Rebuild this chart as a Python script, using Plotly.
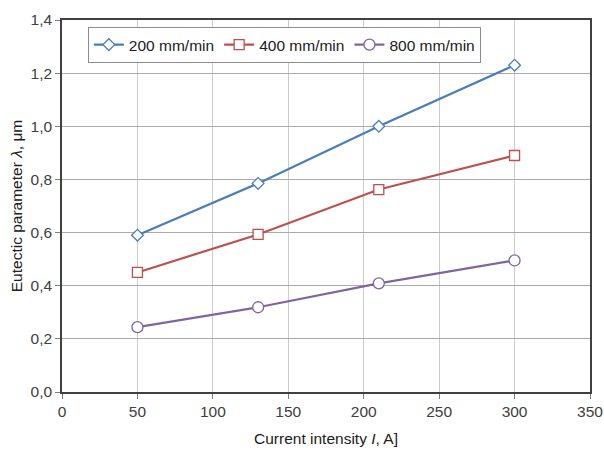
import plotly.graph_objects as go

current = [50, 130, 210, 300]
s200 = [0.59, 0.785, 1.0, 1.23]
s400 = [0.45, 0.593, 0.762, 0.89]
s800 = [0.244, 0.319, 0.409, 0.495]
names = ["200 mm/min", "400 mm/min", "800 mm/min"]
colors = ["#4A7EBB", "#C0504D", "#8064A2"]
symbols = ["diamond", "square", "circle"]
sizes = [9, 10, 11]

fig = go.Figure()
for vals, name, col, sym, sz in zip([s200, s400, s800], names, colors, symbols, sizes):
    fig.add_trace(go.Scatter(
        x=current, y=vals, name=name, mode="lines+markers",
        line=dict(color=col, width=2.2),
        marker=dict(symbol=sym, size=sz, color="white", line=dict(color=col, width=1.3)),
    ))

fig.update_layout(
    width=604, height=453,
    margin=dict(l=62, r=14, t=20, b=61),
    paper_bgcolor="white", plot_bgcolor="white",
    separators=",.",
    font=dict(family="Liberation Sans, Arial, sans-serif", size=15, color="#404040"),
    showlegend=True,
    legend=dict(orientation="h", x=0.049, y=0.981, xanchor="left", yanchor="top",
                bgcolor="white", bordercolor="#8c8c8c", borderwidth=1,
                font=dict(size=15.5, color="#202020"), itemwidth=30, tracegroupgap=0,
                entrywidth=0),
    xaxis=dict(range=[0, 350], dtick=50, tick0=0, showgrid=True, gridcolor="#cccccc", gridwidth=1,
               showline=True, linecolor="#404040", linewidth=1.5, mirror=True, automargin=False,
               ticks="outside", ticklen=5, tickcolor="#808080", zeroline=False,
               tickfont=dict(size=15.5, color="#404040"),
               title=dict(text="Current intensity <i>I</i>, A]", font=dict(size=15.5, color="#202020"), standoff=14)),
    yaxis=dict(range=[0, 1.4], dtick=0.2, tick0=0, tickformat=".1f", showgrid=True, gridcolor="#aaaaaa", gridwidth=1,
               showline=True, linecolor="#404040", linewidth=1.5, mirror=True, automargin=False,
               ticks="outside", ticklen=5, tickcolor="#808080", zeroline=False,
               tickfont=dict(size=15.5, color="#404040"),
               title=dict(text="Eutectic parameter <i>λ</i>, μm", font=dict(size=15.5, color="#202020"), standoff=4)),
)

fig.write_html("out.html", config={"displayModeBar": False},
               post_script="document.body.style.margin='0';document.body.style.overflow='hidden';")
